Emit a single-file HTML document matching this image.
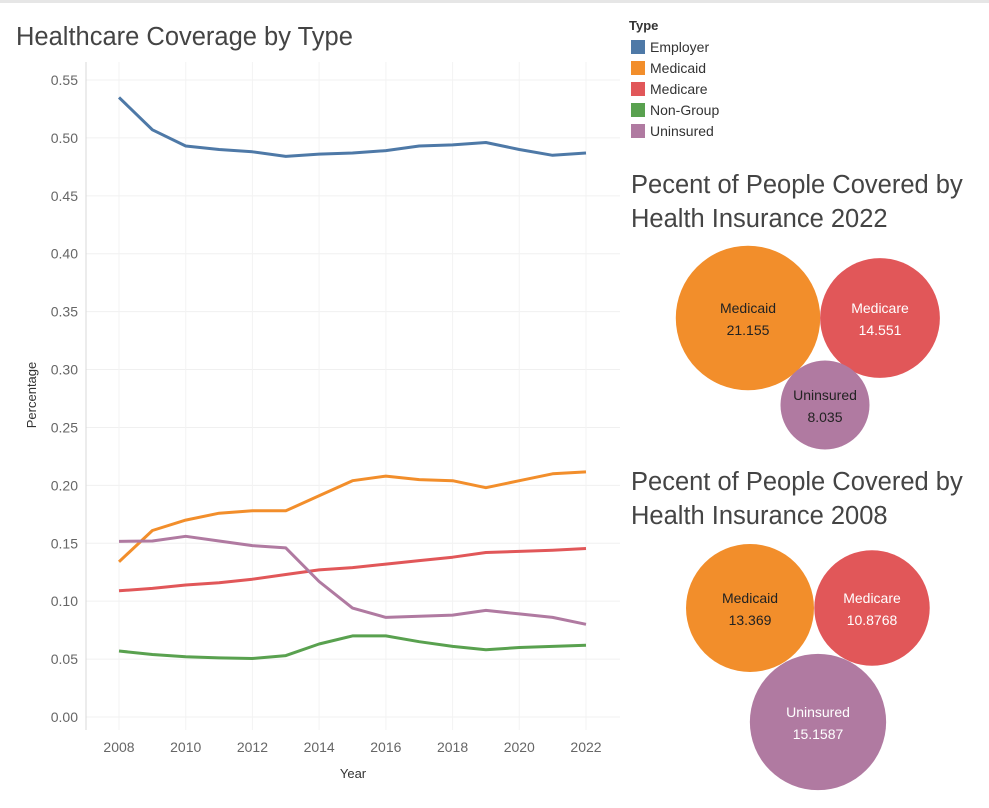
<!DOCTYPE html>
<html><head><meta charset="utf-8">
<style>
body{margin:0;background:#fff;font-family:"Liberation Sans",sans-serif;}
svg text{font-family:"Liberation Sans",sans-serif;}
</style></head>
<body>
<svg id="c" width="989" height="803" xmlns="http://www.w3.org/2000/svg">
<rect x="0" y="0" width="989" height="3" fill="#e6e6e6"/>
<text x="16" y="45" font-size="25.5" fill="#444">Healthcare Coverage by Type</text>
<g id="grid"></g>
<g id="axes"></g>
<g id="lines"></g>
<text x="0" y="0" transform="translate(36,395) rotate(-90)" text-anchor="middle" font-size="13" fill="#333">Percentage</text>
<text x="353" y="778" text-anchor="middle" font-size="13" fill="#333">Year</text>
<g id="legend">
<text x="629" y="30" font-size="13" font-weight="bold" fill="#333">Type</text>
</g>
<text x="631" y="193" font-size="25.5" fill="#444">Pecent of People Covered by</text>
<text x="631" y="227" font-size="25.5" fill="#444">Health Insurance 2022</text>
<text x="631" y="490" font-size="25.5" fill="#444">Pecent of People Covered by</text>
<text x="631" y="524" font-size="25.5" fill="#444">Health Insurance 2008</text>
<g id="bubbles"></g>
</svg>
<script>
const years=[2008,2009,2010,2011,2012,2013,2014,2015,2016,2017,2018,2019,2020,2021,2022];
const seriesNames=["Employer","Medicaid","Medicare","Non-Group","Uninsured"];
const colors=["#4e79a7","#f28e2b","#e15759","#59a14f","#b07aa1"];
const employer=[0.535,0.507,0.493,0.490,0.488,0.484,0.486,0.487,0.489,0.493,0.494,0.496,0.490,0.485,0.487];
const medicaid=[0.134,0.161,0.170,0.176,0.178,0.178,0.191,0.204,0.208,0.205,0.204,0.198,0.204,0.210,0.2116];
const medicare=[0.109,0.111,0.114,0.116,0.119,0.123,0.127,0.129,0.132,0.135,0.138,0.142,0.143,0.144,0.1455];
const nongroup=[0.057,0.054,0.052,0.051,0.0505,0.053,0.063,0.070,0.070,0.065,0.061,0.058,0.060,0.061,0.062];
const uninsured=[0.1516,0.152,0.156,0.152,0.148,0.146,0.117,0.094,0.086,0.087,0.088,0.092,0.089,0.086,0.080];
const yTicks=[0,0.05,0.10,0.15,0.20,0.25,0.30,0.35,0.40,0.45,0.50,0.55];
const xTicks=[2008,2010,2012,2014,2016,2018,2020,2022];
const bubbleLabels2022=["Medicaid","Medicare","Uninsured"];
const bubbleValues2022=[21.155,14.551,8.035];
const bubbleLabels2008=["Medicaid","Medicare","Uninsured"];
const bubbleValues2008=[13.369,10.8768,15.1587];

const NS="http://www.w3.org/2000/svg";
const X=y=>119+(y-2008)*(586-119)/14;
const Y=v=>717-v*(717-80)/0.55;
function mk(t,a,p){const e=document.createElementNS(NS,t);for(const k in a)e.setAttribute(k,a[k]);p.appendChild(e);return e;}
const grid=document.getElementById('grid'),axes=document.getElementById('axes'),lines=document.getElementById('lines');
yTicks.forEach(v=>{
  const l=mk('line',{x1:86,x2:620,y1:Y(v),y2:Y(v),stroke:"#f0f0f0"},grid);
  
  
  const t=mk('text',{x:78,y:Y(v)+5,'text-anchor':'end','font-size':14,fill:'#666'},axes);
  t.textContent=v.toFixed(2);
  
  
});
xTicks.forEach(yr=>{
  const l=mk('line',{x1:X(yr),x2:X(yr),y1:62,y2:730,stroke:"#f3f3f3"},grid);
  
  
  const t=mk('text',{x:X(yr),y:752,'text-anchor':'middle','font-size':14,fill:'#666'},axes);
  t.textContent=yr;
  
  
});
const axl=mk('line',{x1:86,x2:86,y1:62,y2:730,stroke:"#d9d9d9"},axes);


const allSeries=[employer,medicaid,medicare,nongroup,uninsured];
allSeries.forEach((s,i)=>{
  const d=s.map((v,j)=>(j?'L':'M')+X(years[j]).toFixed(1)+','+Y(v).toFixed(1)).join(' ');
  const p=mk('path',{d:d,fill:'none',stroke:colors[i],'stroke-width':3,'stroke-linejoin':'round'},lines);
  
  
});
const lg=document.getElementById('legend');
seriesNames.forEach((n,i)=>{
  const y0=40+i*21;
  const r=mk('rect',{x:631,y:y0,width:14,height:14,fill:colors[i]},lg);
  
  
  const t=mk('text',{x:650,y:y0+12,'font-size':14,fill:'#333'},lg);
  t.textContent=n;
  
  
});
const bg=document.getElementById('bubbles');
function bubbles(labels,vals,centers,k,prefix){
  labels.forEach((lab,i)=>{
    const col=colors[seriesNames.indexOf(lab)];
    const r=k*Math.sqrt(vals[i]);
    const c=mk('circle',{cx:centers[i][0],cy:centers[i][1],r:r,fill:col},bg);
    
    
    const tc=lab==='Medicaid'||(lab==='Uninsured'&&prefix==='2022')?'#222':'#fff';
    const t1=mk('text',{x:centers[i][0],y:centers[i][1]-5,'text-anchor':'middle','font-size':14,fill:tc},bg);
    t1.textContent=lab;
    
    
    const t2=mk('text',{x:centers[i][0],y:centers[i][1]+17,'text-anchor':'middle','font-size':14,fill:tc},bg);
    t2.textContent=vals[i];
    
    
  });
}
bubbles(bubbleLabels2022,bubbleValues2022,[[748,318],[880,318],[825,405]],15.7,'2022');
bubbles(bubbleLabels2008,bubbleValues2008,[[750,608],[872,608],[818,722]],17.5,'2008');
</script>
</body></html>
